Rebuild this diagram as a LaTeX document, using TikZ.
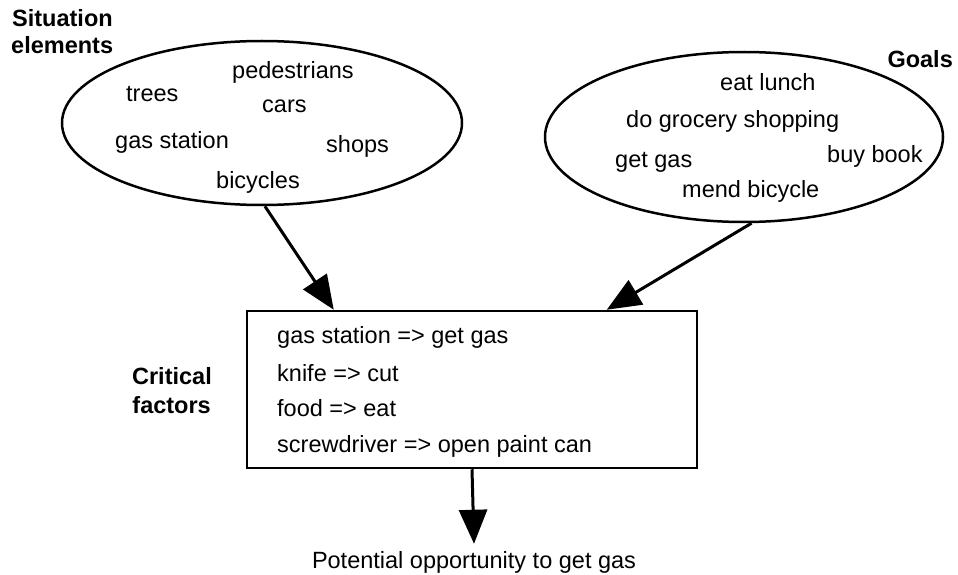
\documentclass[tikz,border=0pt]{standalone}
\usepackage{fontspec}
\setmainfont{Liberation Sans}
\usetikzlibrary{shapes.geometric,arrows.meta}
\begin{document}
\begin{tikzpicture}[x=1pt,y=-1pt,
  every node/.style={inner sep=0pt, font=\fontsize{23.5}{28}\selectfont},
  item/.style={anchor=base west},
  heading/.style={font=\fontsize{23.5}{28}\selectfont\bfseries},
  cloud/.style={draw, ellipse, line width=2.5pt, inner sep=0pt},
  factorbox/.style={draw, rectangle, line width=2.5pt, inner sep=0pt},
  bigarrow/.style={line width=3pt, -{Triangle[length=34pt,width=28pt]}}
]
\useasboundingbox (0,0) rectangle (958,575);

% situation elements
\node[cloud, minimum width=400pt, minimum height=164pt] (sit) at (262,123) {};
\node[heading, anchor=base west] (sitA) at (12,27) {Situation};
\node[heading, anchor=base west] (sitB) at (11,54) {elements};
\node[item] (s1) at (232,79) {pedestrians};
\node[item] (s2) at (126,102) {trees};
\node[item] (s3) at (262,113) {cars};
\node[item] (s4) at (115,148) {gas station};
\node[item] (s5) at (326,153) {shops};
\node[item] (s6) at (216,188) {bicycles};

% goals
\node[cloud, minimum width=398pt, minimum height=170pt] (goal) at (744,137) {};
\node[heading, anchor=base east] (goalT) at (953,68) {Goals};
\node[item] (g1) at (720,91) {eat lunch};
\node[item] (g2) at (626,128) {do grocery shopping};
\node[item] (g3) at (827,162) {buy book};
\node[item] (g4) at (615,167) {get gas};
\node[item] (g5) at (682,197) {mend bicycle};

% critical factors
\node[factorbox, minimum width=450pt, minimum height=157pt] (box) at (472,389.5) {};
\node[heading, anchor=base east] (crA) at (212,384) {Critical};
\node[heading, anchor=base east] (crB) at (211,413) {factors};
\node[item] (f1) at (277,343.7) {gas station => get gas};
\node[item] (f2) at (277,381.7) {knife => cut};
\node[item] (f3) at (277,416) {food => eat};
\node[item] (f4) at (277,452.7) {screwdriver => open paint can};

% outcome
\node[anchor=base] (pot) at (474,568) {Potential opportunity to get gas};

% connectors
\draw[bigarrow] (sit.272) -- ([xshift=88pt]box.north west);
\draw[bigarrow] (goal.275) -- ([xshift=361pt]box.north west);
\draw[bigarrow] (box.south) -- ([yshift=7pt]pot.north);
\end{tikzpicture}
\end{document}
